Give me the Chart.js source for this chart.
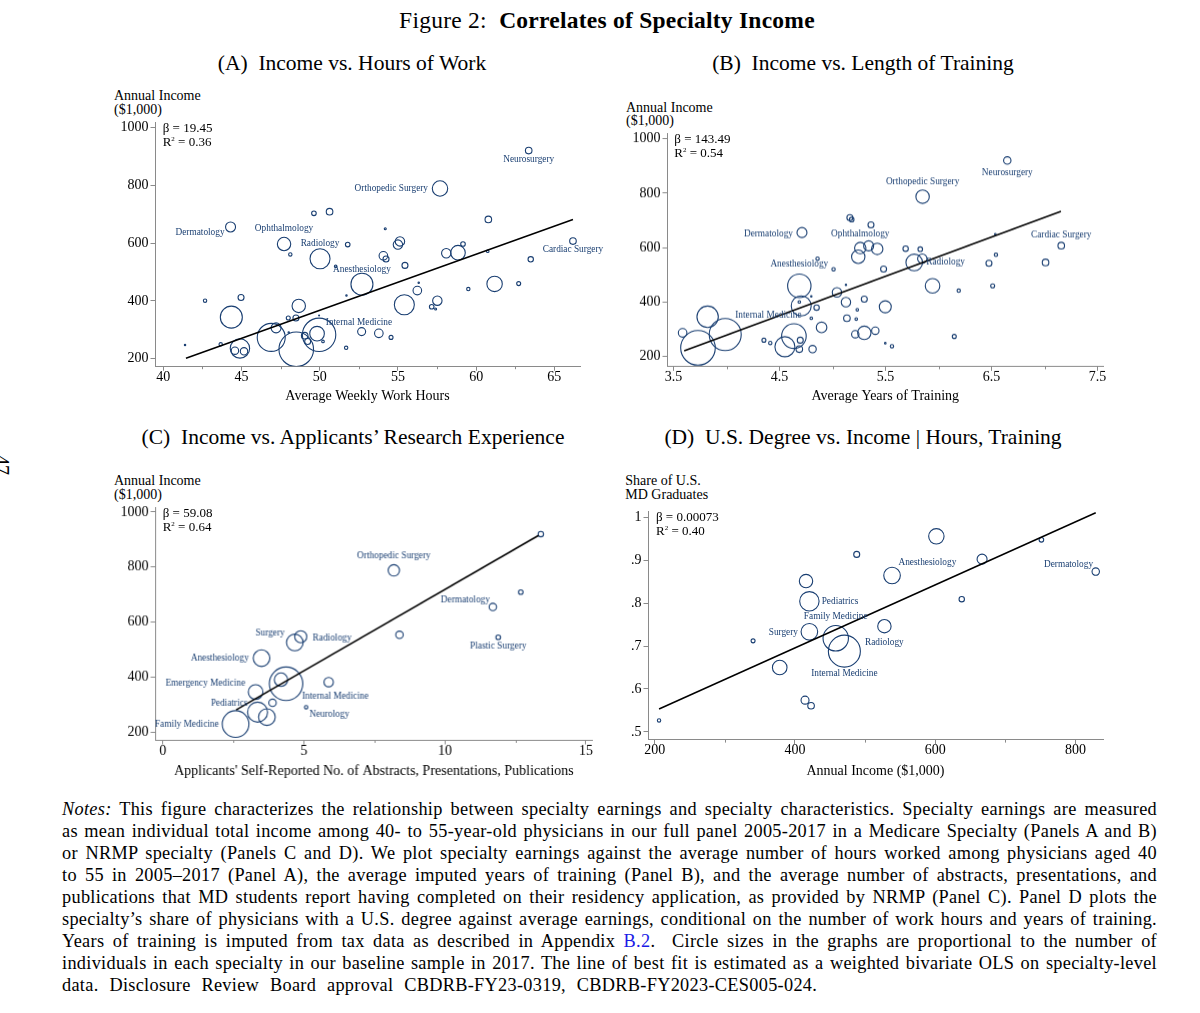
<!DOCTYPE html>
<html><head><meta charset="utf-8">
<script src="https://cdn.jsdelivr.net/npm/chart.js@4.4.1/dist/chart.umd.min.js"></script>
<style>
html,body{margin:0;padding:0;background:#fff;}
body{width:1200px;height:1013px;position:relative;overflow:hidden;font-family:"Liberation Serif","Times New Roman",serif;color:#000;}
.t{position:absolute;white-space:nowrap;}
.c{transform:translateX(-50%);}
.box{position:absolute;}
.ptitle{font-size:21.5px;line-height:21px;}
.ytitle{font-size:14px;line-height:13.6px;}
.stat{font-size:13px;line-height:14px;}
.stat sup{font-size:7px;line-height:0;vertical-align:5px;}
.note{position:absolute;left:62px;width:1095px;font-size:18.3px;line-height:22px;height:22px;text-align:justify;text-align-last:justify;letter-spacing:0.3px;}
.note.last{text-align-last:left;word-spacing:6px;}
</style></head><body>

<div class="t c" style="left:607px;top:8.5px;font-size:23.5px;line-height:23px;letter-spacing:0.25px;">Figure 2:&nbsp; <b>Correlates of Specialty Income</b></div>
<div class="t" style="left:-8px;top:455px;font-size:20px;line-height:20px;transform:rotate(90deg);">47</div>

<div class="t c ptitle" style="left:352px;top:52.5px;">(A)&nbsp; Income vs. Hours of Work</div>
<div class="t c ptitle" style="left:863px;top:52.5px;">(B)&nbsp; Income vs. Length of Training</div>
<div class="t c ptitle" style="left:353px;top:426.5px;">(C)&nbsp; Income vs. Applicants’ Research Experience</div>
<div class="t c ptitle" style="left:863px;top:426.5px;">(D)&nbsp; U.S. Degree vs. Income | Hours, Training</div>

<div class="t ytitle" style="left:114px;top:89px;">Annual Income<br>($1,000)</div>
<div class="t ytitle" style="left:626px;top:100.5px;">Annual Income<br>($1,000)</div>
<div class="t ytitle" style="left:114px;top:474.2px;">Annual Income<br>($1,000)</div>
<div class="t ytitle" style="left:625.3px;top:474.2px;">Share of U.S.<br>MD Graduates</div>

<div class="box" style="left:105px;top:111.5px;width:515px;height:293.5px;"><canvas id="cA"></canvas></div>
<div class="box" style="left:616.7px;top:123.3px;width:526.6px;height:281.7px;"><canvas id="cB"></canvas></div>
<div class="box" style="left:105px;top:497.3px;width:526.7px;height:282.7px;"><canvas id="cC"></canvas></div>
<div class="box" style="left:598.3px;top:500.7px;width:545px;height:279.3px;"><canvas id="cD"></canvas></div>

<div class="t stat" style="left:162.7px;top:121.3px;">β = 19.45<br>R<sup>2</sup> = 0.36</div>
<div class="t stat" style="left:674.3px;top:132.3px;">β = 143.49<br>R<sup>2</sup> = 0.54</div>
<div class="t stat" style="left:162.7px;top:506px;">β = 59.08<br>R<sup>2</sup> = 0.64</div>
<div class="t stat" style="left:656px;top:510px;">β = 0.00073<br>R<sup>2</sup> = 0.40</div>

<div class="note" style="top:798px;"><i>Notes:</i> This figure characterizes the relationship between specialty earnings and specialty characteristics. Specialty earnings are measured</div>
<div class="note" style="top:820px;">as mean individual total income among 40- to 55-year-old physicians in our full panel 2005-2017 in a Medicare Specialty (Panels A and B)</div>
<div class="note" style="top:842px;">or NRMP specialty (Panels C and D). We plot specialty earnings against the average number of hours worked among physicians aged 40</div>
<div class="note" style="top:864px;">to 55 in 2005–2017 (Panel A), the average imputed years of training (Panel B), and the average number of abstracts, presentations, and</div>
<div class="note" style="top:886px;">publications that MD students report having completed on their residency application, as provided by NRMP (Panel C). Panel D plots the</div>
<div class="note" style="top:908px;">specialty’s share of physicians with a U.S. degree against average earnings, conditional on the number of work hours and years of training.</div>
<div class="note" style="top:930px;">Years of training is imputed from tax data as described in Appendix <span style="color:#1a1ae6;">B.2</span>.&nbsp; Circle sizes in the graphs are proportional to the number of</div>
<div class="note" style="top:952px;">individuals in each specialty in our baseline sample in 2017. The line of best fit is estimated as a weighted bivariate OLS on specialty-level</div>
<div class="note last" style="top:974px;">data. Disclosure Review Board approval CBDRB-FY23-0319, CBDRB-FY2023-CES005-024.</div>

<script>
// ---------------- DATA ----------------
// Panel A: income vs. weekly hours
const hoursA = [63.36,57.69,66.19,60.78,59.16,60.74,63.49,62.72,61.18,59.50,58.09,58.84,57.52,57.16,57.41,56.24,56.33,55.41,55.45,55.13,55.00,54.19,54.07,54.24,54.56,53.78,52.68,52.70,51.79,51.71,51.69,51.02,50.63,49.63,50.02,49.96,49.83,50.21,49.96,48.50,46.90,47.21,48.66,48.48,47.99,48.02,49.04,49.23,48.12,47.72,44.30,44.35,44.97,44.90,44.58,45.16,43.67,42.67,41.39];
const incomeA = [920,789,607,682,597,572,544,460,459,441,565,567,401,380,372,436,463,387,523,606,595,650,556,545,274,288,294,458,595,419,238,520,709,703,546,283,287,260,350,233,274,307,383,341,341,291,280,260,561,597,656,344,412,236,228,226,250,401,248];
const countA = [3.3,7.7,3.3,3.3,2.3,1.3,2.7,2,7.7,1.7,4.7,7.3,4.7,2.3,1,4.3,0.7,10,3,4.7,4.7,1,4.3,3,2,4.3,4,11,2.3,0.7,1.7,1.3,3.3,2.3,10,16.7,7.3,1.3,0.5,17.3,14,5,6.7,3,2,0.7,3.3,3,1.7,6.7,5,11,3,9.7,3.7,3.7,1.7,1.7,0.7];
const fitXA = [41.45, 66.19];
const fitYA = [202, 682];
const namesA = [[0,'Neurosurgery'],[1,'Orthopedic Surgery'],[2,'Cardiac Surgery'],[50,'Dermatology'],[49,'Ophthalmology'],[34,'Radiology'],[27,'Anesthesiology'],[35,'Internal Medicine']];
const xTicksA = [40,45,50,55,60,65];
const xMinorA = [42.5,47.5,52.5,57.5,62.5];
const yTicksA = [200,400,600,800,1000];

// Panel B: income vs. years of training
const yearsB = [6.648,5.849,7.157,7.009,6.541,6.535,6.475,6.510,6.190,6.148,5.943,5.770,5.846,5.827,5.689,5.481,5.497,5.421,5.340,5.261,5.242,5.362,5.163,5.180,5.299,5.233,5.223,5.126,5.135,5.041,5.126,5.009,5.299,5.214,5.403,5.497,5.560,4.896,4.811,4.849,4.799,4.858,4.799,4.686,4.704,4.686,4.711,4.635,4.695,4.686,4.550,4.352,4.412,3.987,3.821,3.730,3.585];
const incomeB = [920,787,607,545,573,649,542,459,441,273,459,545,559,594,596,521,382,595,606,598,566,683,710,703,410,371,337,399,340,435,463,520,286,281,294,248,237,306,226,379,340,559,420,459,385,400,655,274,259,226,235,259,249,280,345,231,286];
const countB = [3.7,6.7,3.3,3.3,1.7,0.8,3,2,1.7,2,7.3,8.3,4.7,2.3,2.7,3,6,5.7,5,5.7,6.7,3,3,2.3,3,1.3,1.3,4.7,3.3,4.7,0.7,1.7,6.7,3.7,3.7,0.8,1.7,5.3,3.7,2.7,1.3,1.7,0.7,11.7,10,1.3,5,12.3,3,3.3,10,2,1.7,16,10.7,17.3,4.3];
const fitXB = [3.60, 7.154];
const fitYB = [220, 733];
const namesB = [[0,'Neurosurgery'],[1,'Orthopedic Surgery'],[2,'Cardiac Surgery'],[46,'Dermatology'],[19,'Ophthalmology'],[43,'Anesthesiology'],[11,'Radiology'],[53,'Internal Medicine']];
const xTicksB = [3.5,4.5,5.5,6.5,7.5];
const xMinorB = [4,5,6,7];
const yTicksB = [200,400,600,800,1000];

// Panel C: income vs. applicants' research output
const researchC = [13.40,8.19,12.69,11.70,11.89,8.39,4.89,4.68,3.50,5.88,4.19,4.37,3.89,3.29,3.36,3.69,2.58,5.08];
const incomeC = [920,788,709,655,545,554,547,526,469,382,391,376,307,346,273,255,230,291];
const countC = [2.7,5.7,2.3,3.7,2.3,3.7,6,8.3,8.3,4.7,6.7,16.7,3.7,7.3,10,8.3,13.3,1.7];
const fitXC = [2.60, 13.32];
const fitYC = [281.5, 915];
const namesC = [[1,'Orthopedic Surgery'],[3,'Dermatology'],[4,'Plastic Surgery'],[7,'Surgery'],[6,'Radiology'],[8,'Anesthesiology'],[13,'Emergency Medicine'],[11,'Internal Medicine'],[14,'Pediatrics'],[17,'Neurology'],[16,'Family Medicine']];
const xTicksC = [0,5,10,15];
const xMinorC = [2.5,7.5,12.5];
const yTicksC = [200,400,600,800,1000];

// Panel D: share of U.S. MD graduates vs. income
const incomeD = [206.2,340.3,378.3,414.4,423.0,415.8,420.6,420.6,458.2,470.5,488.1,538.5,527.6,601.7,637.9,666.9,751.5,829.0];
const shareD = [0.527,0.712,0.650,0.574,0.561,0.851,0.804,0.733,0.718,0.688,0.913,0.864,0.746,0.955,0.809,0.902,0.947,0.873];
const countD = [1.7,2,7.3,4,3.3,6.7,9.7,8.3,12.7,16,3,8.3,6.7,7.7,2.7,5,2.3,3.7];
const fitXD = [206.2, 829];
const fitYD = [0.5535, 1.010];
const namesD = [[11,'Anesthesiology'],[17,'Dermatology'],[6,'Pediatrics'],[8,'Family Medicine'],[7,'Surgery'],[12,'Radiology'],[9,'Internal Medicine']];
const xTicksD = [200,400,600,800];
const xMinorD = [300,500,700];
const yTicksD = [0.5,0.6,0.7,0.8,0.9,1];
const yTickLabelsD = ['.5','.6','.7','.8','.9','1'];

// ---------------- STYLE / PLACEMENT ----------------
const NAVY = '#1a3f72';
const AXIS = '#8a8a8a';
const FONT = "'Liberation Serif','Times New Roman',serif";
// label placement: [align, dx, dy] in px relative to marker centre
const placeA = [['c',0,9],['r',-12,0],['c',0,8.5],['r',-6,6],['c',0,-15],['c',0,-15],['c',0,-15],['l',6.7,-12.3]];
const placeB = [['c',0,12.3],['c',0,-14.7],['c',0,-11],['r',-9,1],['c',0,-14],['c',0,-21.3],['l',12,0],['l',10,-18.7]];
const placeC = [['c',0,-14.3],['r',-3,-7.3],['c',0,9],['r',-10,-9],['l',12,1],['r',-12.7,0],['r',-10.3,-8.3],['l',16,12.3],['r',-10,-8.7],['l',3.3,7.3],['r',-16.7,0]];
const placeD = [['l',6.4,-13.3],['r',-2.7,-7],['l',12.3,0.7],['c',0,-21.3],['r',-11.4,0.7],['c',0,16],['c',0,22]];

Chart.defaults.font.family = FONT;

function makePanel(id, p) {
  const pts = p.x.map((x, i) => ({x: x, y: p.y[i], r: p.r[i]}));
  const line = p.fitX.map((x, i) => ({x: x, y: p.fitY[i]}));
  const extras = {
    id: 'extras_' + id,
    afterDatasetsDraw(chart) {
      const ctx = chart.ctx, xs = chart.scales.x, ys = chart.scales.y;
      ctx.save();
      ctx.font = '9.3px ' + FONT;
      ctx.fillStyle = NAVY;
      ctx.textBaseline = 'middle';
      p.names.forEach((nm, k) => {
        const i = nm[0], pl = p.place[k];
        const px = xs.getPixelForValue(p.x[i]) + pl[1];
        const py = ys.getPixelForValue(p.y[i]) + pl[2];
        ctx.textAlign = pl[0] === 'c' ? 'center' : (pl[0] === 'l' ? 'left' : 'right');
        ctx.fillText(nm[1], px, py);
      });
      // minor x ticks
      ctx.strokeStyle = AXIS;
      ctx.lineWidth = 1;
      const b = chart.chartArea.bottom;
      p.xMinor.forEach(v => {
        const px = Math.round(xs.getPixelForValue(v)) + 0.5;
        ctx.beginPath(); ctx.moveTo(px, b); ctx.lineTo(px, b + 3); ctx.stroke();
      });
      ctx.restore();
    }
  };
  return new Chart(document.getElementById(id), {
    type: 'bubble',
    data: {datasets: [
      {type: 'line', data: line, borderColor: '#000', borderWidth: 1.5, pointRadius: 0, fill: false, order: 0},
      {type: 'bubble', data: pts, backgroundColor: 'rgba(0,0,0,0)', borderColor: NAVY, borderWidth: 1.1, hoverRadius: 0, order: 1}
    ]},
    options: {
      responsive: true, maintainAspectRatio: false, animation: false, events: [],
      layout: {padding: {top: 10, right: 40, left: 0, bottom: 0}, autoPadding: false},
      plugins: {legend: {display: false}, tooltip: {enabled: false}, title: {display: false}},
      scales: {
        x: {
          type: 'linear', min: p.xMin, max: p.xMax,
          afterBuildTicks: s => { s.ticks = p.xTicks.map(v => ({value: v})); },
          afterFit: s => { s.height = p.xAxisH; s.paddingLeft = 0; s.paddingRight = 0; s.paddingTop = 0; s.paddingBottom = 0; },
          ticks: {autoSkip: false, maxRotation: 0, minRotation: 0, padding: -2, color: '#000', font: {size: 14},
                  callback: (v, i) => p.xTickLabels ? p.xTickLabels[i] : String(v)},
          grid: {display: true, drawOnChartArea: false, drawTicks: true, tickLength: 4.5, color: AXIS, lineWidth: 1},
          border: {display: true, color: AXIS, width: 1},
          title: {display: true, text: p.xTitle, color: '#000', font: {size: 14}, padding: {top: 0, bottom: p.xTitlePad}}
        },
        y: {
          type: 'linear', min: p.yMin, max: p.yMax,
          afterBuildTicks: s => { s.ticks = p.yTicks.map(v => ({value: v})); },
          afterFit: s => { s.width = 50; s.paddingTop = 0; s.paddingBottom = 0; s.paddingLeft = 0; s.paddingRight = 0; },
          ticks: {autoSkip: false, padding: 2, color: '#000', font: {size: 14},
                  callback: (v, i) => p.yTickLabels ? p.yTickLabels[i] : String(v)},
          grid: {display: true, drawOnChartArea: false, drawTicks: true, tickLength: 4.5, color: AXIS, lineWidth: 1},
          border: {display: true, color: AXIS, width: 1}
        }
      }
    },
    plugins: [extras]
  });
}

makePanel('cA', {x: hoursA, y: incomeA, r: countA, fitX: fitXA, fitY: fitYA, names: namesA, place: placeA,
  xMin: 39.47, xMax: 66.64, yMin: 174.4, yMax: 1019, xTicks: xTicksA, xMinor: xMinorA, yTicks: yTicksA,
  xAxisH: 39.3, xTitle: 'Average Weekly Work Hours', xTitlePad: 0.6});
makePanel('cB', {x: yearsB, y: incomeB, r: countB, fitX: fitXB, fitY: fitYB, names: namesB, place: placeB,
  xMin: 3.4377, xMax: 7.5566, yMin: 163.1, yMax: 1021, xTicks: xTicksB, xMinor: xMinorB, yTicks: yTicksB,
  xAxisH: 39.3, xTitle: 'Average Years of Training', xTitlePad: 0.6});
makePanel('cC', {x: researchC, y: incomeC, r: countC, fitX: fitXC, fitY: fitYC, names: namesC, place: placeC,
  xMin: -0.2735, xMax: 15.238, yMin: 172.3, yMax: 1018, xTicks: xTicksC, xMinor: xMinorC, yTicks: yTicksC,
  xAxisH: 40.7, xTitle: "Applicants' Self-Reported No. of Abstracts, Presentations, Publications", xTitlePad: 0.9});
makePanel('cD', {x: incomeD, y: shareD, r: countD, fitX: fitXD, fitY: fitYD, names: namesD, place: placeD,
  xMin: 190.44, xMax: 839.36, yMin: 0.4823, yMax: 1.014, xTicks: xTicksD, xMinor: xMinorD, yTicks: yTicksD, yTickLabels: yTickLabelsD,
  xAxisH: 40.7, xTitle: 'Annual Income ($1,000)', xTitlePad: 0.9});
</script>
</body></html>
